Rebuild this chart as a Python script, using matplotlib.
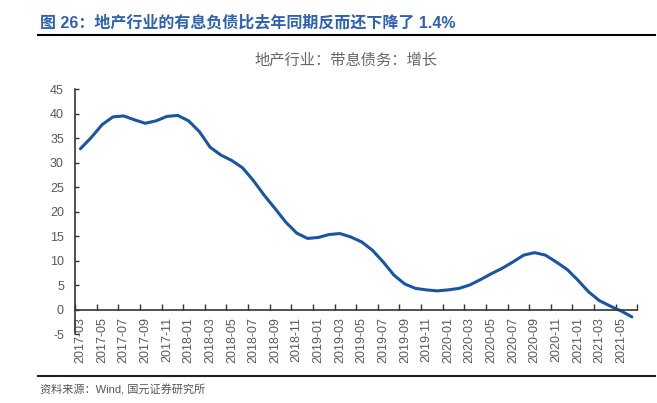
import numpy as np
import pandas as pd
import matplotlib
matplotlib.use("Agg")
import matplotlib.pyplot as plt
from matplotlib.lines import Line2D

plt.rcParams['font.family'] = ['Liberation Sans', 'Noto Sans CJK SC']

# monthly categories 2017-03 .. 2021-06
months = list(pd.period_range('2017-03', '2021-06', freq='M').strftime('%Y-%m'))
# 地产行业：带息债务：增长 (%)
debt_growth = [32.9, 35.2, 37.8, 39.4, 39.6, 38.8, 38.1, 38.6, 39.5, 39.7,
               38.6, 36.4, 33.2, 31.6, 30.5, 29.0, 26.4, 23.4, 20.7, 17.9,
               15.7, 14.6, 14.8, 15.4, 15.6, 14.9, 13.9, 12.2, 9.8, 7.1,
               5.3, 4.4, 4.1, 3.9, 4.1, 4.4, 5.1, 6.2, 7.4, 8.5,
               9.8, 11.2, 11.7, 11.2, 9.8, 8.3, 6.1, 3.7, 1.9, 0.8,
               -0.2, -1.4]
y_ticks = list(range(-5, 50, 5))

title = '图 26：地产行业的有息负债比去年同期反而还下降了 1.4%'
subtitle = '地产行业：带息债务：增长'
source = '资料来源：Wind, 国元证券研究所'

fig = plt.figure(figsize=(6.57, 4.03), dpi=100)
ax = fig.add_axes([0.1142, 0.170, 0.8558, 0.608])

x = np.arange(len(months))
ax.plot(x, debt_growth, color='#1A56A0', lw=2.2, solid_capstyle='round',
        solid_joinstyle='round')

ax.set_xlim(-0.5, len(months) - 0.5)
ax.set_ylim(-5, 45)
ax.set_yticks(y_ticks)
ax.set_yticklabels([str(v) for v in y_ticks])

# tick marks on category boundaries, labels on category centres
ax.set_xticks(np.arange(-0.5, len(months), 2))
ax.set_xticklabels([])
ax.set_xticks(x[::2], minor=True)
ax.set_xticklabels(months[::2], minor=True)

for s in ['top', 'right']:
    ax.spines[s].set_visible(False)
ax.spines['bottom'].set_position(('data', 0))
ax.spines['bottom'].set_color('#333333')
ax.spines['left'].set_color('#333333')
ax.spines['bottom'].set_linewidth(1.2)
ax.spines['left'].set_linewidth(1.2)

ax.tick_params(axis='x', which='major', direction='in', length=4, width=1, color='#333333')
ax.tick_params(axis='x', which='minor', length=0, pad=5, labelsize=9,
               labelcolor='#595959', labelrotation=90)
ax.tick_params(axis='y', direction='in', length=3, width=1, color='#333333',
               pad=8, labelsize=9, labelcolor='#595959')

fig.text(40 / 657, 0.944, title, fontsize=11.5, fontweight='bold', color='#2F62AE',
         ha='left', va='center')
fig.add_artist(Line2D([38 / 657, 655 / 657], [0.913, 0.913], color='black', lw=1.5))
fig.text(346 / 657, 0.851, subtitle, fontsize=11, color='#666666', ha='center', va='center')
fig.add_artist(Line2D([38 / 657, 655 / 657], [0.068, 0.068], color='#222222', lw=1.5))
fig.text(40 / 657, 0.032, source, fontsize=8, color='#555555', ha='left', va='center')

fig.savefig('out.png', dpi=100)
